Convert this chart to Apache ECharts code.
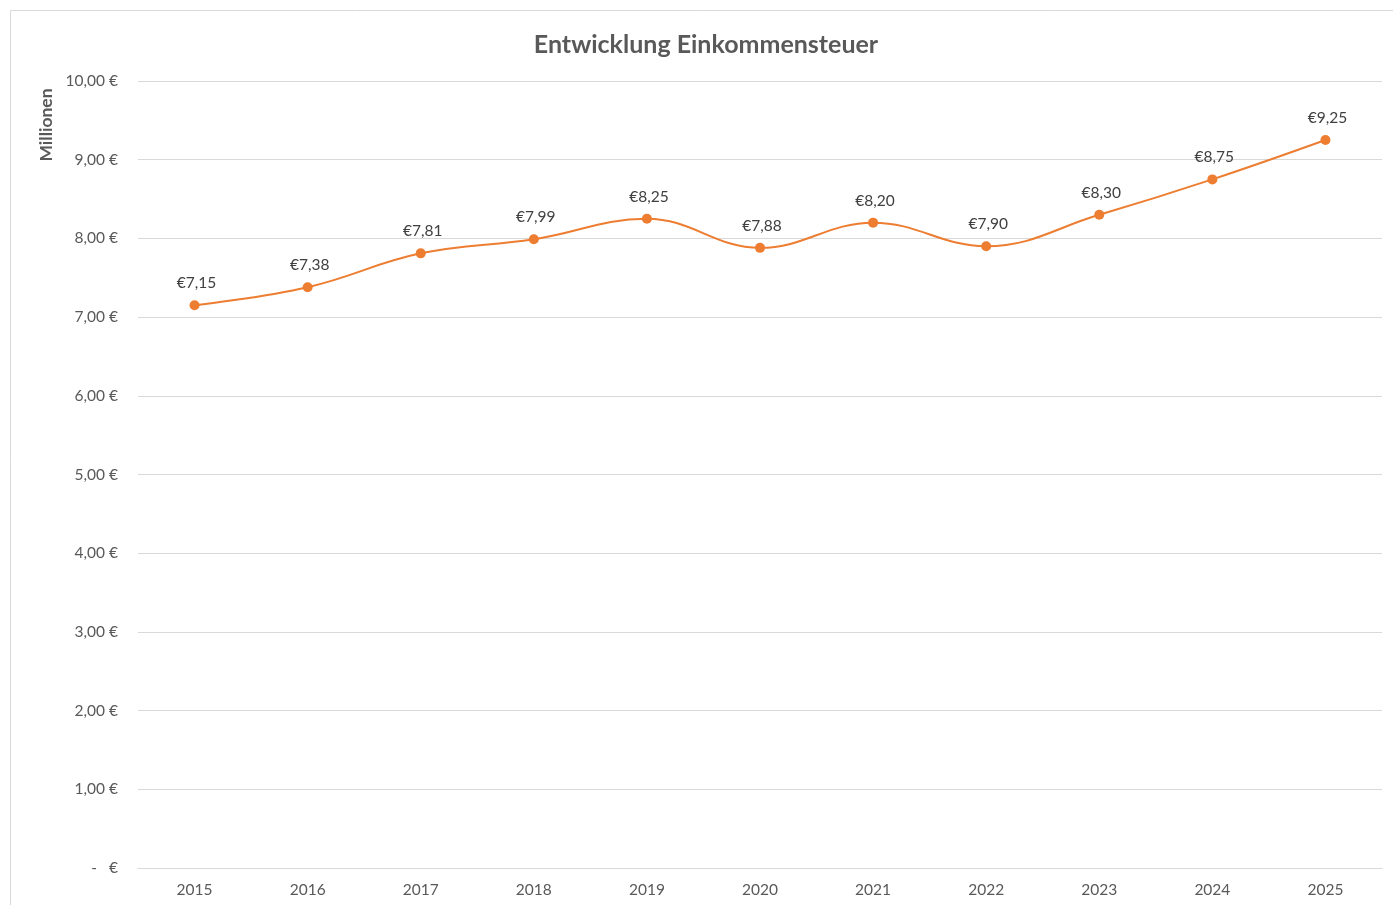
<!DOCTYPE html>
<html>
<head>
<meta charset="utf-8">
<title>Entwicklung Einkommensteuer</title>
<script src="https://cdn.jsdelivr.net/npm/echarts@6/dist/echarts.min.js"></script>
<style>
  html, body { margin: 0; padding: 0; background: #fff; }
  #chart_wrap { width: 1393px; height: 905px; }
</style>
</head>
<body>
<div id="chart_wrap"></div>
<script>
// Jahre und Werte (Mio. €)
var years = ['2015', '2016', '2017', '2018', '2019', '2020', '2021', '2022', '2023', '2024', '2025'];
var steuer = [7.15, 7.38, 7.81, 7.99, 8.25, 7.88, 8.20, 7.90, 8.30, 8.75, 9.25];
var yTicks = [0, 1, 2, 3, 4, 5, 6, 7, 8, 9, 10];

var font = 'Lato, "Open Sans", sans-serif';

function euroAxis(v) {
    if (v === 0) return '-   €';
    return v.toFixed(2).replace('.', ',') + ' €';
}

var myChart = echarts.init(document.getElementById('chart_wrap'));

myChart.setOption({
    animation: false,
    textStyle: { fontFamily: font },
    title: {
        text: 'Entwicklung Einkommensteuer',
        left: 701,
        top: 27,
        textAlign: 'center',
        textStyle: { fontSize: 25, fontWeight: 'bold', color: '#595959', fontFamily: font }
    },
    graphic: [
        {
            type: 'rect',
            z: -10,
            shape: { x: 10.5, y: 10.5, width: 1500, height: 1000 },
            style: { fill: 'none', stroke: '#d9d9d9', lineWidth: 1 }
        },
        {
            type: 'text',
            x: 46,
            y: 125,
            rotation: Math.PI / 2,
            style: {
                text: 'Millionen',
                fontSize: 17.5,
                fontWeight: 'bold',
                fill: '#595959',
                fontFamily: font,
                align: 'center',
                verticalAlign: 'middle'
            }
        }
    ],
    grid: { left: 138, right: 11, top: 81, bottom: 37 },
    xAxis: {
        type: 'category',
        data: years,
        axisLine: { lineStyle: { color: '#d9d9d9' } },
        axisTick: { show: false },
        axisLabel: { color: '#595959', fontSize: 15.5, margin: 14 }
    },
    yAxis: {
        type: 'value',
        min: yTicks[0],
        max: yTicks[yTicks.length - 1],
        interval: 1,
        axisLine: { show: false },
        axisTick: { show: false },
        splitLine: { lineStyle: { color: '#d9d9d9' } },
        axisLabel: { color: '#595959', fontSize: 15.5, margin: 20, formatter: euroAxis }
    },
    series: [
        {
            name: 'Einkommensteuer',
            type: 'line',
            data: steuer,
            smooth: 0.4,
            symbol: 'circle',
            symbolSize: 10,
            lineStyle: { color: '#ED7D31', width: 2 },
            itemStyle: { color: '#ED7D31' },
            label: {
                show: true,
                position: 'top',
                distance: 9,
                offset: [2, 0],
                color: '#404040',
                fontSize: 15.5,
                fontFamily: font,
                formatter: function (p) {
                    return '€' + p.value.toFixed(2).replace('.', ',');
                }
            }
        }
    ]
});
</script>
</body>
</html>
